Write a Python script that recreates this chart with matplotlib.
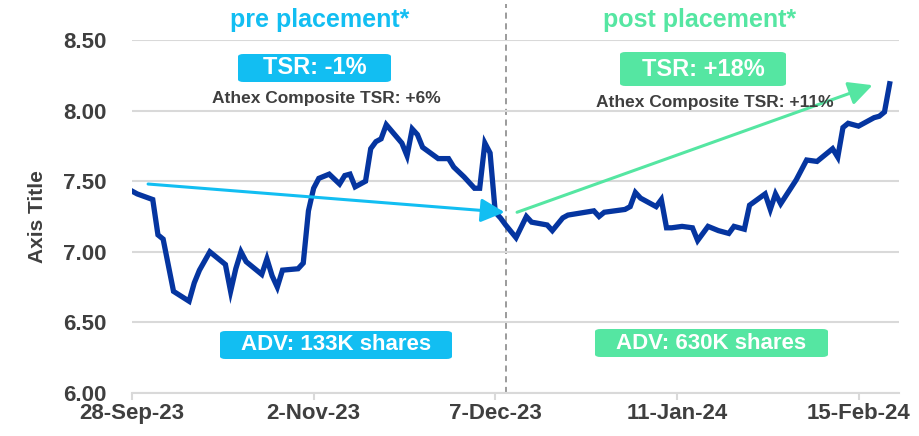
import numpy as np
import matplotlib
matplotlib.use('Agg')
import matplotlib.pyplot as plt
import matplotlib.dates as mdates
from matplotlib.patches import FancyBboxPatch
from datetime import datetime, timedelta

# ─── Data ──────────────────────────────────────────
START = datetime(2023, 9, 28)
day_offset = [0, 1, 4, 5, 6, 8, 11, 12, 13, 15, 18, 19, 20, 21, 22, 25, 26, 27, 28, 29,
              32, 33, 34, 35, 36, 38, 40, 41, 42, 43, 45, 46, 47, 48, 49, 52, 53, 54, 55, 56,
              59, 61, 62, 64, 66, 67, 68, 69, 70, 71, 72, 74, 76, 77, 80, 81, 83, 84, 89, 90,
              91, 95, 96, 97, 98, 101, 102, 103, 104, 106, 108, 109, 111, 113, 115, 116, 118, 119, 122, 123,
              124, 125, 128, 130, 132, 135, 136, 137, 138, 140, 143, 144, 145, 146]
price = [7.43, 7.41, 7.37, 7.12, 7.09, 6.72, 6.65, 6.78, 6.87, 7.00, 6.91, 6.72, 6.88, 7.00, 6.93, 6.84, 6.95, 6.83, 6.75, 6.87,
         6.88, 6.92, 7.29, 7.45, 7.52, 7.55, 7.48, 7.54, 7.55, 7.46, 7.50, 7.73, 7.78, 7.80, 7.90, 7.77, 7.68, 7.87, 7.83, 7.74,
         7.66, 7.66, 7.60, 7.53, 7.45, 7.45, 7.77, 7.70, 7.28, 7.24, 7.19, 7.10, 7.25, 7.21, 7.19, 7.15, 7.24, 7.26, 7.29, 7.25,
         7.28, 7.30, 7.32, 7.42, 7.38, 7.32, 7.37, 7.17, 7.17, 7.18, 7.17, 7.08, 7.18, 7.15, 7.13, 7.18, 7.16, 7.33, 7.41, 7.30,
         7.41, 7.34, 7.51, 7.65, 7.64, 7.73, 7.67, 7.88, 7.91, 7.89, 7.95, 7.96, 7.99, 8.19]

tick_labels = ['28-Sep-23', '2-Nov-23', '7-Dec-23', '11-Jan-24', '15-Feb-24']
tick_offset = [0, 35, 70, 105, 140]
y_ticks     = [6.00, 6.50, 7.00, 7.50, 8.00, 8.50]

placement_day = 72
pre_arrow  = [(3.1, 7.48), (71.8, 7.28)]
post_arrow = [(74.2, 7.28), (142.7, 8.18)]

pre_title, post_title = "pre placement*", "post placement*"
pre_tsr,   post_tsr   = "TSR: -1%", "TSR: +18%"
pre_athex, post_athex = "Athex Composite TSR: +6%", "Athex Composite TSR: +11%"
pre_adv,   post_adv   = "ADV: 133K shares", "ADV: 630K shares"
# ──────────────────────────────────────────────────

CYAN  = '#12BEF2'
GREEN = '#55E6A2'
NAVY  = '#0535A0'
TEXT  = '#3F3F3F'
GRID  = '#D9D9D9'

plt.rcParams['font.family'] = ['Liberation Sans', 'DejaVu Sans']
plt.rcParams['font.weight'] = 'bold'

W, H = 920, 436
fig = plt.figure(figsize=(W / 100, H / 100), dpi=100, facecolor='white')

def fx(x): return x / W
def fy(y): return 1 - y / H

ax_l, ax_r, ax_t, ax_b = 132, 899, 40, 393
ax = fig.add_axes([fx(ax_l), fy(ax_b), (ax_r - ax_l) / W, (ax_b - ax_t) / H])

def to_num(d):
    return mdates.date2num(START + timedelta(days=d))

xs = [to_num(d) for d in day_offset]
ax.plot(xs, price, color=NAVY, linewidth=3.8, solid_joinstyle='miter', zorder=3)

ax.set_xlim(to_num(0), to_num(147.8))
ax.set_ylim(6.0, 8.5)
ax.set_yticks(y_ticks)
ax.set_yticklabels([f"{v:.2f}" for v in y_ticks])
ax.set_xticks([to_num(d) for d in tick_offset])
ax.set_xticklabels(tick_labels)

ax.grid(axis='y', color=GRID, linewidth=1.5, zorder=0)
for s in ['top', 'right', 'left']:
    ax.spines[s].set_visible(False)
ax.spines['bottom'].set_color(GRID)
ax.spines['bottom'].set_linewidth(1.5)
ax.tick_params(axis='y', length=0, pad=18, labelsize=16, labelcolor=TEXT)
ax.tick_params(axis='x', length=5, width=1.5, color=GRID, pad=2.5, labelsize=16, labelcolor=TEXT)
ax.set_ylabel("Axis Title", fontsize=15, color=TEXT, fontweight='bold', labelpad=12)

# placement divider
ax.axvline(to_num(placement_day), ymin=0, ymax=(ax_b - 4) / (ax_b - ax_t),
           color='#808080', linestyle=(0, (4, 3)), linewidth=1.1, clip_on=False, zorder=1)

# trend arrows
for (p0, p1), col in [(pre_arrow, CYAN), (post_arrow, GREEN)]:
    ax.annotate('', xy=(to_num(p1[0]), p1[1]), xytext=(to_num(p0[0]), p0[1]),
                arrowprops=dict(arrowstyle='-|>,head_length=0.9,head_width=0.45',
                                color=col, lw=2.2, mutation_scale=16,
                                shrinkA=0, shrinkB=0), zorder=4)

# titles
fig.text(fx(320), fy(20), pre_title, color=CYAN, fontsize=18, fontweight='bold',
         ha='center', va='center')
fig.text(fx(700), fy(20), post_title, color=GREEN, fontsize=18, fontweight='bold',
         ha='center', va='center')

def label_box(x0, y0, x1, y1, color, text, size):
    box = FancyBboxPatch((fx(x0), fy(y1)), fx(x1) - fx(x0), fy(y0) - fy(y1),
                         boxstyle='round,pad=0,rounding_size=0.006',
                         transform=fig.transFigure, facecolor=color,
                         edgecolor='none', zorder=5)
    fig.patches.append(box)
    fig.text(fx((x0 + x1) / 2), fy((y0 + y1) / 2), text, color='white',
             fontsize=size, fontweight='bold', ha='center', va='center', zorder=6)

label_box(238, 54, 391, 82, CYAN, pre_tsr, 17)
label_box(620, 52, 786, 86, GREEN, post_tsr, 17)
label_box(220, 331, 452, 359, CYAN, pre_adv, 16)
label_box(595, 329, 828, 357, GREEN, post_adv, 16)

fig.text(fx(326), fy(98), pre_athex, color=TEXT, fontsize=12.5, fontweight='bold',
         ha='center', va='center')
fig.text(fx(715), fy(102), post_athex, color=TEXT, fontsize=12.5, fontweight='bold',
         ha='center', va='center')

fig.savefig('out.png', dpi=100, facecolor='white')
